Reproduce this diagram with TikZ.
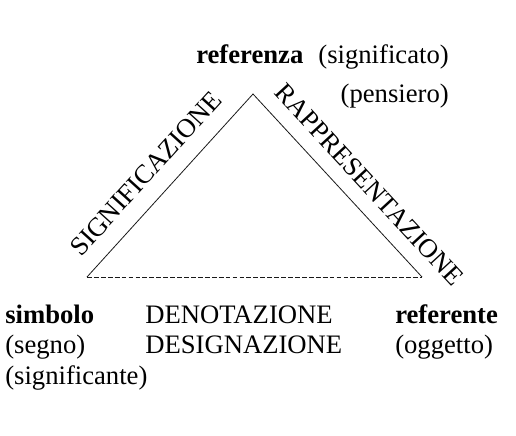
\documentclass[tikz,border=0pt]{standalone}
\usepackage{fontspec}
\setmainfont{Liberation Serif}
\definecolor{color_linea}{rgb}{0.1,0.1,0.1}
\definecolor{color_testo}{rgb}{0,0,0}

\begin{document}
\begin{tikzpicture}[x=0.75pt,y=-0.75pt,
	testo/.style={inner sep=0pt,text=color_testo,font=\fontsize{20}{24}\selectfont},
	lato/.style={color_linea,line width=0.6pt},
	base/.style={color_linea,line width=0.6pt,dash pattern=on 3.6pt off 1.6pt}]
	\useasboundingbox (0,0) rectangle (516,435);
	
	% Vertici del triangolo
	\coordinate (apice) at (253,94);
	\coordinate (sinistra) at (87,277);
	\coordinate (destra) at (422,277);
	
	% Lati
	\draw[lato] (sinistra) -- (apice) -- (destra);
	\draw[base] (sinistra) -- (destra);
	\path (sinistra) -- (apice) node[testo,pos=0.47,sloped,anchor=south,yshift=12.5pt] (significazione) {SIGNIFICAZIONE};
	\path (apice) -- (destra) node[testo,pos=0.585,sloped,anchor=south,yshift=11pt] (rappresentazione) {RAPPRESENTAZIONE};
	
	% In alto
	\node[testo,anchor=base west] (referenza) at (196,63) {\bfseries referenza};
	\node[testo,anchor=base east] (significato) at (449,63) {(significato)};
	\node[testo,anchor=base east] (pensiero) at (449,102) {(pensiero)};
	
	% In basso
	\node[testo,anchor=base west] (simbolo) at (5,323) {\bfseries simbolo};
	\node[testo,anchor=base west] (segno) at (5,353) {(segno)};
	\node[testo,anchor=base west] (significante) at (5,384) {(significante)};
	\node[testo,anchor=base west] (denotazione) at (145,323) {DENOTAZIONE};
	\node[testo,anchor=base west] (designazione) at (145,353) {DESIGNAZIONE};
	\node[testo,anchor=base west] (referente) at (395,323) {\bfseries referente};
	\node[testo,anchor=base west] (oggetto) at (395,353) {(oggetto)};
\end{tikzpicture}
\end{document}
